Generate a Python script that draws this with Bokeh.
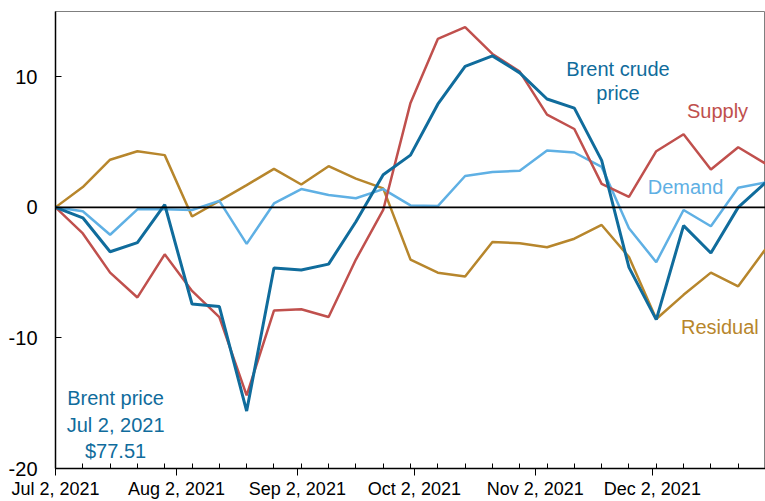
from datetime import date
from bokeh.plotting import figure
from bokeh.models import FixedTicker, Span, ColumnDataSource
from bokeh.core.properties import value
from bokeh.embed import file_html
from bokeh.resources import INLINE

# ---- data ----
dates = ["2021-07-02", "2021-07-09", "2021-07-16", "2021-07-23", "2021-07-30",
         "2021-08-06", "2021-08-13", "2021-08-20", "2021-08-27", "2021-09-03",
         "2021-09-10", "2021-09-17", "2021-09-24", "2021-10-01", "2021-10-08",
         "2021-10-15", "2021-10-22", "2021-10-29", "2021-11-05", "2021-11-12",
         "2021-11-19", "2021-11-26", "2021-12-03", "2021-12-10", "2021-12-17",
         "2021-12-24", "2021-12-31"]

brent = [0.0, -0.8, -3.4, -2.7, 0.2, -7.4, -7.6, -15.6, -4.65, -4.8,
         -4.35, -1.1, 2.5, 4.0, 7.9, 10.8, 11.6, 10.3, 8.3, 7.6,
         3.6, -4.6, -8.6, -1.4, -3.5, 0.0, 1.9]
supply = [0.0, -2.0, -5.0, -6.9, -3.6, -6.4, -8.4, -14.4, -7.9, -7.8,
          -8.4, -4.0, -0.2, 8.0, 12.9, 13.8, 11.75, 10.4, 7.1, 6.0,
          1.8, 0.8, 4.3, 5.6, 2.9, 4.6, 3.35]
demand = [0.0, -0.3, -2.1, -0.15, -0.15, -0.2, 0.5, -2.8, 0.3, 1.4,
          0.95, 0.7, 1.4, 0.15, 0.1, 2.4, 2.7, 2.8, 4.35, 4.2,
          3.1, -1.6, -4.2, -0.2, -1.45, 1.5, 1.9]
residual = [0.0, 1.55, 3.65, 4.3, 4.0, -0.7, 0.5, 1.7, 2.95, 1.75,
            3.15, 2.2, 1.45, -4.0, -5.0, -5.3, -2.65, -2.75, -3.05, -2.4,
            -1.35, -3.8, -8.55, -6.7, -5.0, -6.05, -3.2]

tick_dates = ["2021-07-02", "2021-08-02", "2021-09-02", "2021-10-02", "2021-11-02", "2021-12-02"]
tick_labels = ["Jul 2, 2021", "Aug 2, 2021", "Sep 2, 2021", "Oct 2, 2021", "Nov 2, 2021", "Dec 2, 2021"]
y_ticks = [-20, -10, 0, 10]
y_tick_labels = ["-20", "-10", "0", "10"]

C_BRENT = "#106c9c"
C_SUPPLY = "#c0504d"
C_DEMAND = "#5fb0e4"
C_RESID = "#b7862c"

start = date.fromisoformat(dates[0])
def dnum(s):
    return (date.fromisoformat(s) - start).days

x = [dnum(d) for d in dates]
src = ColumnDataSource(dict(x=x, brent=brent, supply=supply, demand=demand, residual=residual))

p = figure(width=765, height=501, output_backend="svg", toolbar_location=None,
           x_range=(0, 182), y_range=(-20, 15),
           min_border_left=55, min_border_right=0, min_border_top=11, min_border_bottom=31)
p.grid.visible = False
p.outline_line_color = "#7f7f7f"
p.outline_line_width = 1
p.background_fill_color = "white"
p.border_fill_color = "white"

p.add_layout(Span(location=0, dimension="width", line_color="black", line_width=1.6))

p.line("x", "residual", source=src, line_color=C_RESID, line_width=2.5)
p.line("x", "demand", source=src, line_color=C_DEMAND, line_width=2.5)
p.line("x", "supply", source=src, line_color=C_SUPPLY, line_width=2.5)
p.line("x", "brent", source=src, line_color=C_BRENT, line_width=3)

# axes
xt = [dnum(d) for d in tick_dates]
p.xaxis.ticker = FixedTicker(ticks=xt, minor_ticks=x)
p.xaxis.major_label_overrides = {t: l for t, l in zip(xt, tick_labels)}
p.xaxis.major_tick_in = 0
p.xaxis.major_tick_out = 7
p.xaxis.minor_tick_in = 5
p.xaxis.minor_tick_out = 0
p.xaxis.major_label_standoff = 3
p.xaxis.axis_line_color = "black"
p.xaxis.axis_line_width = 1.5
p.xaxis.major_tick_line_color = "black"
p.xaxis.minor_tick_line_color = "black"
p.xaxis.major_label_text_font = "Liberation Sans"
p.xaxis.major_label_text_font_size = "18px"
p.xaxis.major_label_text_color = "black"

p.yaxis.ticker = FixedTicker(ticks=y_ticks)
p.yaxis.major_label_overrides = {t: l for t, l in zip(y_ticks, y_tick_labels)}
p.yaxis.major_tick_in = 6
p.yaxis.major_tick_out = 0
p.yaxis.minor_tick_line_color = None
p.yaxis.major_label_standoff = 18
p.yaxis.axis_line_color = "black"
p.yaxis.axis_line_width = 1.5
p.yaxis.major_tick_line_color = "black"
p.yaxis.major_label_text_font = "Liberation Sans"
p.yaxis.major_label_text_font_size = "20px"
p.yaxis.major_label_text_color = "black"

# labels
def label(txt, xd, yv, color, lh):
    p.text(x=[xd], y=[yv], text=[txt], text_color=color, text_font=value("Liberation Sans"),
           text_font_size="20px", text_align="center", text_baseline="middle",
           text_line_height=lh)

label("Brent crude\nprice", 144.2, 9.7, C_BRENT, 1.1)
label("Supply", 169.7, 7.4, C_SUPPLY, 1.2)
label("Demand", 161.5, 1.53, C_DEMAND, 1.2)
label("Residual", 170.3, -9.15, C_RESID, 1.2)
label("Brent price\nJul 2, 2021\n$77.51", 15.4, -16.65, C_BRENT, 1.2)

open("out.html", "w").write(file_html(p, INLINE))
